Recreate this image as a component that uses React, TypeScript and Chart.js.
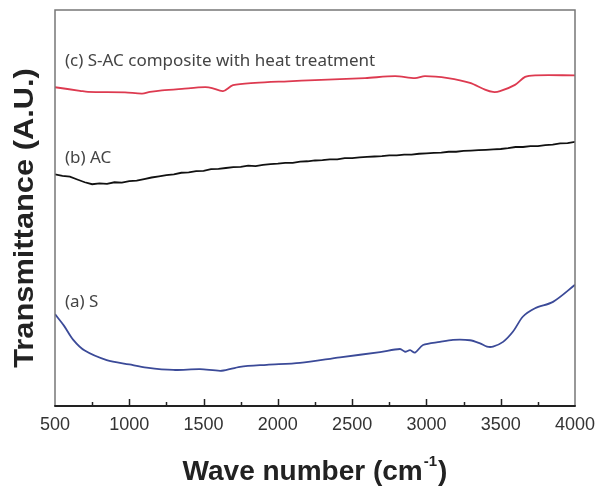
import React, { useEffect, useRef } from "react";
import { Chart, registerables } from "chart.js";

Chart.register(...registerables);

// ---- data ----
const xTickValues = [500, 1000, 1500, 2000, 2500, 3000, 3500, 4000];
const seriesLabels = ["(a) S", "(b) AC", "(c) S-AC composite with heat treatment"];

// (a) S  (blue)
const waveA = [500, 560, 623, 700, 848, 1000, 1117, 1296, 1476, 1622, 1745, 1925, 2149, 2418, 2688, 2822, 2856, 2890, 2923, 2977, 3091, 3179, 3293, 3361, 3408, 3448, 3516, 3583, 3650, 3731, 3852, 4000];
const transA = [23.2, 20.3, 16.7, 14.0, 11.6, 10.5, 9.7, 9.1, 9.3, 8.9, 9.9, 10.4, 10.9, 12.3, 13.6, 14.4, 13.7, 14.1, 13.5, 15.4, 16.2, 16.7, 16.6, 15.8, 15.0, 15.0, 16.2, 18.8, 22.6, 24.7, 26.3, 30.6];

// (b) AC (black)
const waveB = [500, 550, 600, 650, 700, 750, 800, 850, 900, 950, 1000, 1050, 1100, 1150, 1200, 1250, 1300, 1350, 1400, 1450, 1500, 1550, 1600, 1650, 1700, 1750, 1800, 1850, 1900, 1950, 2000, 2050, 2100, 2150, 2200, 2250, 2300, 2350, 2400, 2450, 2500, 2550, 2600, 2650, 2700, 2750, 2800, 2850, 2900, 2950, 3000, 3050, 3100, 3150, 3200, 3250, 3300, 3350, 3400, 3450, 3500, 3550, 3600, 3650, 3700, 3750, 3800, 3850, 3900, 3950, 4000];
const transB = [58.5, 58.1, 57.9, 57.2, 56.5, 56.0, 56.2, 56.1, 56.5, 56.4, 56.8, 56.9, 57.3, 57.7, 58.0, 58.3, 58.5, 58.9, 59.0, 59.3, 59.4, 59.8, 59.9, 60.1, 60.3, 60.4, 60.7, 60.6, 60.9, 61.1, 61.2, 61.4, 61.4, 61.7, 61.8, 62.0, 62.1, 62.3, 62.3, 62.6, 62.6, 62.8, 62.9, 63.0, 63.1, 63.3, 63.3, 63.5, 63.5, 63.7, 63.8, 63.9, 64.0, 64.2, 64.2, 64.4, 64.5, 64.6, 64.7, 64.8, 64.9, 65.1, 65.4, 65.4, 65.6, 65.6, 65.9, 66.0, 66.3, 66.4, 66.7];

// (c) S-AC composite with heat treatment (red)
const waveC = [500, 668, 722, 971, 1086, 1139, 1220, 1355, 1510, 1557, 1631, 1698, 1846, 2068, 2250, 2587, 2789, 2923, 2990, 3145, 3293, 3394, 3448, 3495, 3596, 3664, 3731, 4000];
const transC = [80.5, 79.6, 79.3, 79.2, 78.9, 79.3, 79.7, 80.1, 80.5, 80.3, 79.5, 81.0, 81.6, 82.0, 82.3, 82.8, 83.3, 82.8, 83.3, 82.8, 81.6, 79.9, 79.3, 79.5, 81.1, 83.1, 83.5, 83.5];

const FONT = '"Liberation Sans", Arial, sans-serif';

const framePlugin = {
  id: "frameAndTitles",
  afterDraw(chart: any) {
    const { ctx, chartArea, scales } = chart;
    const { left, right, top, bottom } = chartArea;
    const xs = scales.x;
    const ys = scales.y;
    ctx.save();
    // frame
    ctx.strokeStyle = "#777";
    ctx.lineWidth = 1.5;
    ctx.beginPath();
    ctx.moveTo(left, bottom);
    ctx.lineTo(left, top);
    ctx.lineTo(right, top);
    ctx.lineTo(right, bottom);
    ctx.stroke();
    ctx.strokeStyle = "#222";
    ctx.lineWidth = 2;
    ctx.beginPath();
    ctx.moveTo(left - 0.75, bottom);
    ctx.lineTo(right + 0.75, bottom);
    ctx.stroke();
    // inward ticks (major + minor)
    ctx.lineWidth = 1.5;
    for (let v = 750; v < 4000; v += 250) {
      const px = Math.round(xs.getPixelForValue(v)) + 0.5;
      const len = v % 500 === 0 ? 7 : 4;
      ctx.beginPath();
      ctx.moveTo(px, bottom);
      ctx.lineTo(px, bottom - len);
      ctx.stroke();
    }
    // series labels
    ctx.fillStyle = "#444";
    ctx.font = '17px "Noto Sans", "Open Sans", sans-serif';
    ctx.textAlign = "left";
    ctx.textBaseline = "middle";
    const labelY = [26.3, 62.6, 87.0];
    seriesLabels.forEach((t, i) => {
      ctx.fillText(t, xs.getPixelForValue(567), ys.getPixelForValue(labelY[i]));
    });
    // x title with superscript
    ctx.fillStyle = "#222";
    const big = "bold 28px " + FONT;
    const small = "bold 15px " + FONT;
    const p1 = "Wave number (cm";
    const sup = "-1";
    const p3 = ")";
    ctx.font = big;
    const w1 = ctx.measureText(p1).width;
    const w3 = ctx.measureText(p3).width;
    ctx.font = small;
    const w2 = ctx.measureText(sup).width;
    const total = w1 + w2 + w3 + 2;
    const x0 = (left + right) / 2 - total / 2;
    const base = 480;
    ctx.textBaseline = "alphabetic";
    ctx.font = big;
    ctx.fillText(p1, x0, base);
    ctx.font = small;
    ctx.fillText(sup, x0 + w1 + 1, base - 14);
    ctx.font = big;
    ctx.fillText(p3, x0 + w1 + w2 + 2, base);
    // y title
    ctx.save();
    ctx.translate(25, 218);
    ctx.rotate(-Math.PI / 2);
    ctx.scale(1.1, 1);
    ctx.textAlign = "center";
    ctx.textBaseline = "middle";
    ctx.font = big;
    ctx.fillText("Transmittance (A.U.)", 0, 0);
    ctx.restore();
    ctx.restore();
  },
};

export default function App() {
  const ref = useRef<HTMLCanvasElement | null>(null);
  useEffect(() => {
    if (!ref.current) return;
    const mk = (w: number[], t: number[]) => w.map((x, i) => ({ x, y: t[i] }));
    const chart = new Chart(ref.current, {
      type: "line",
      data: {
        datasets: [
          { label: seriesLabels[0], data: mk(waveA, transA), borderColor: "#3b4a98", borderWidth: 1.8, pointRadius: 0, tension: 0.3 },
          { label: seriesLabels[1], data: mk(waveB, transB), borderColor: "#111111", borderWidth: 1.8, pointRadius: 0, tension: 0 },
          { label: seriesLabels[2], data: mk(waveC, transC), borderColor: "#dd3a50", borderWidth: 1.8, pointRadius: 0, tension: 0.3 },
        ],
      },
      options: {
        responsive: false,
        animation: false,
        layout: { padding: { left: 55, right: 23, top: 10, bottom: 0 } },
        plugins: { legend: { display: false }, tooltip: { enabled: false } },
        scales: {
          x: {
            type: "linear",
            min: 500,
            max: 4000,
            afterBuildTicks: (s: any) => {
              s.ticks = xTickValues.map((v) => ({ value: v }));
            },
            afterFit: (s: any) => {
              s.height = 80;
              s.paddingLeft = 0;
              s.paddingRight = 0;
            },
            grid: { display: false, drawTicks: false },
            border: { display: false },
            ticks: {
              color: "#333",
              font: { family: FONT, size: 18 },
              padding: 8,
              maxRotation: 0,
              autoSkip: false,
              callback: (v: any) => String(v),
            },
          },
          y: {
            display: false,
            min: 0,
            max: 100,
          },
        },
      },
      plugins: [framePlugin],
    });
    return () => chart.destroy();
  }, []);
  return (
    <div style={{ position: "fixed", left: 0, top: 0, width: 598, height: 486, background: "#fff" }}>
      <canvas ref={ref} width={598} height={486} />
    </div>
  );
}
